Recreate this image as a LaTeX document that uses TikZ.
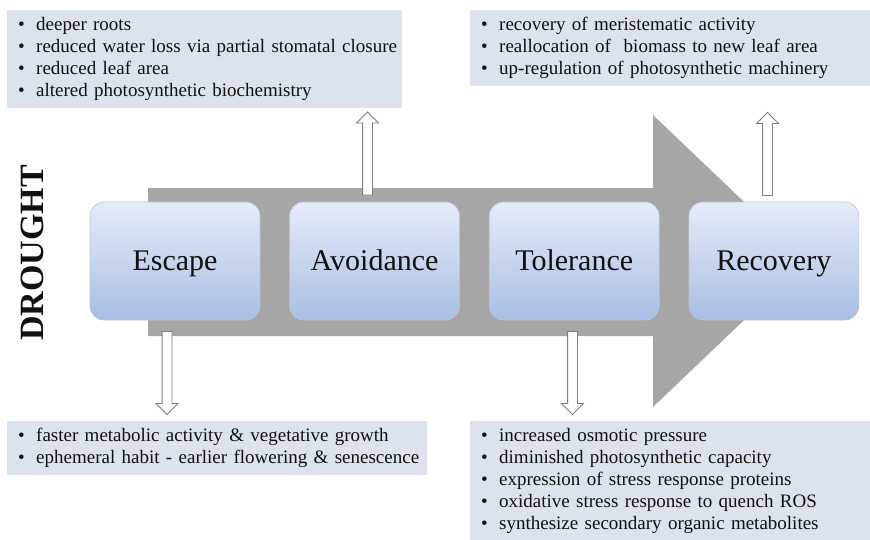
\documentclass[tikz,border=0pt]{standalone}
\usepackage{fontspec}
\setmainfont{Liberation Serif}
\usetikzlibrary{positioning,shapes.arrows}
\definecolor{ink}{HTML}{111111}
\definecolor{bodyc}{HTML}{A6A6A6}
\definecolor{notec}{HTML}{DCE3ED}
\definecolor{phtop}{HTML}{E6ECF8}
\definecolor{phbot}{HTML}{A8BEE4}
\definecolor{phline}{HTML}{BAC4D4}
\definecolor{hollc}{HTML}{7F7F7F}

\newcommand{\itm}[1]{\mbox{\makebox[18pt][l]{\textbullet}#1\strut}}

\begin{document}
\begin{tikzpicture}[x=1pt, y=-1pt, text=ink,
  phase/.style={rounded corners=14pt, top color=phtop, bottom color=phbot,
    draw=phline, line width=0.6pt, minimum width=170pt, minimum height=118pt,
    inner sep=0, text height=20pt, text depth=2pt,
    font=\fontsize{30}{32}\selectfont},
  note/.style={fill=notec, anchor=north west, align=left, inner xsep=11pt,
    inner ysep=5pt, font=\fontsize{19}{22}\selectfont},
  hollow/.style={single arrow, draw=hollc, fill=white, line width=0.8pt,
    single arrow head extend=6pt, inner xsep=0pt, inner ysep=4.5pt,
    single arrow tip angle=90}]

\useasboundingbox (0,0) rectangle (870,539);

% big grey arrow behind the phases
\fill[bodyc] (148,188) -- (653,188) -- (653,115) -- (806,261)
  -- (653,407) -- (653,336) -- (148,336) -- cycle;

% phases
\node[phase] (escape) at (175,261) {Escape};
\node[phase, right=29pt of escape] (avoid) {Avoidance};
\node[phase, right=29pt of avoid] (toler) {Tolerance};
\node[phase, right=29pt of toler] (recov) {Recovery};

\node[rotate=90, font=\bfseries\fontsize{34}{34}\selectfont] (drought)
  at (32,253) {DROUGHT};

% notes
\node[note, text width=373pt] (avoidnote) at (7,10)
  {\itm{deeper roots}\\
   \itm{reduced water loss via partial stomatal closure}\\
   \itm{reduced leaf area}\\
   \itm{altered photosynthetic biochemistry}};
\node[note, text width=378pt] (recovnote) at (470,10)
  {\itm{recovery of meristematic activity}\\
   \itm{reallocation of\ \ biomass to new leaf area}\\
   \itm{up-regulation of photosynthetic machinery}};
\node[note, text width=398pt] (escapenote) at (7,421)
  {\itm{faster metabolic activity \& vegetative growth}\\
   \itm{ephemeral habit - earlier flowering \& senescence}};
\node[note, text width=378pt, minimum height=118pt] (tolernote) at (470,421)
  {\itm{increased osmotic pressure}\\
   \itm{diminished photosynthetic capacity}\\
   \itm{expression of stress response proteins}\\
   \itm{oxidative stress response to quench ROS}\\
   \itm{synthesize secondary organic metabolites}};

% hollow arrows from phases to their notes
\foreach \nm/\x/\y/\rot in {avup/367.5/156/90, recup/767.5/156.5/90,
  escdn/167/370.5/-90, toldn/572.5/370.5/-90}{
  \node[hollow, rotate=\rot, minimum height=83pt] (\nm) at (\x,\y) {};
}

\end{tikzpicture}
\end{document}
